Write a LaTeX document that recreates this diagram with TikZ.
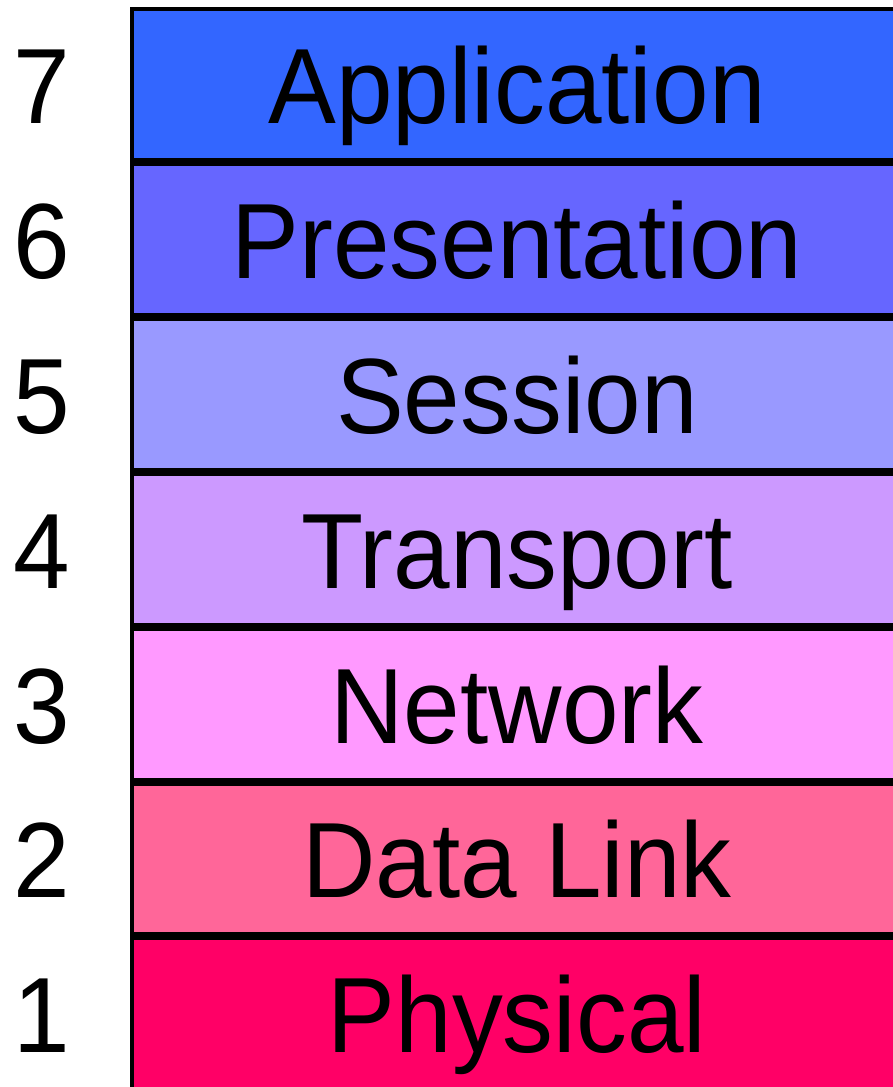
\documentclass[tikz,border=0pt]{standalone}
\usepackage{fontspec}
\setmainfont[FakeStretch=0.95]{Liberation Sans}
\definecolor{c7}{HTML}{3366FF}
\definecolor{c6}{HTML}{6666FF}
\definecolor{c5}{HTML}{9999FF}
\definecolor{c4}{HTML}{CC99FF}
\definecolor{c3}{HTML}{FF99FF}
\definecolor{c2}{HTML}{FF6699}
\definecolor{c1}{HTML}{FF0066}
\begin{document}
\begin{tikzpicture}[x=1pt,y=1pt,
  layer/.style={draw=black, line width=4pt, minimum width=770pt, minimum height=150.9pt,
    inner sep=0pt, outer sep=0pt, text height=78pt, text depth=0pt,
    font=\fontsize{107pt}{107pt}\selectfont},
  num/.style={inner sep=0pt, text height=78pt, text depth=0pt,
    font=\fontsize{107pt}{107pt}\selectfont}]
\useasboundingbox (0,0) rectangle (893,-1087);
\fill[white] (0,0) rectangle (893,-1087);
\foreach \i/\c/\t in {0/c7/Application,1/c6/Presentation,2/c5/Session,3/c4/Transport,4/c3/Network,5/c2/Data Link,6/c1/Physical}{
  \pgfmathsetmacro{\yc}{-(7+154.9*\i+77.45)}
  \pgfmathtruncatemacro{\n}{7-\i}
  \node[layer, fill=\c] (L\n) at (517,\yc) {\t};
  \node[num] (N\n) at (42,\yc) {\n};
}
\end{tikzpicture}
\end{document}
